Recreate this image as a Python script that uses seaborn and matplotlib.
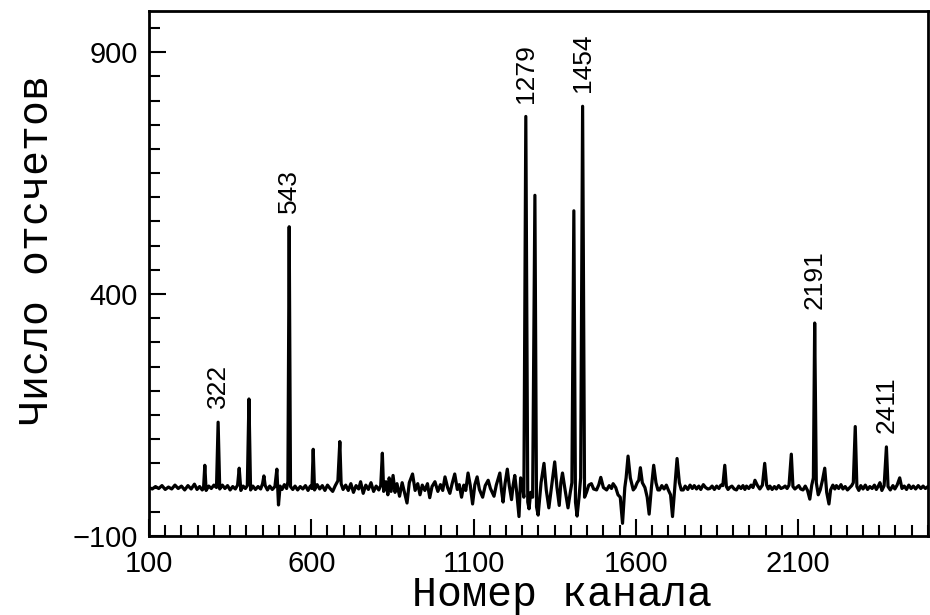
import pandas as pd
import seaborn as sns
import matplotlib.pyplot as plt
from matplotlib.ticker import FixedLocator, MultipleLocator

# spectrum trace (channel, counts)
channels = [
    100, 110, 120, 130, 140, 150, 160, 170, 180, 190,
    200, 210, 220, 230, 240, 248, 256, 264, 268, 272,
    276, 284, 292, 300, 308, 313, 318, 326, 334, 342,
    350, 358, 366, 373, 378, 383, 390, 397, 403, 408,
    413, 420, 428, 436, 444, 450, 454, 458, 465, 472,
    480, 488, 494, 499, 504, 510, 517, 524, 528, 532,
    536, 543, 550, 558, 566, 574, 582, 590, 597, 602,
    606, 610, 618, 626, 634, 642, 650, 658, 666, 674,
    682, 688, 692, 698, 706, 714, 722, 730, 738, 746,
    752, 760, 768, 776, 784, 792, 800, 808, 814, 819,
    823, 830, 836, 840, 846, 852, 858, 864, 872, 880,
    888, 895, 902, 912, 920, 928, 935, 942, 950, 958,
    965, 972, 981, 990, 998, 1005, 1012, 1020, 1027, 1034,
    1042, 1050, 1056, 1063, 1070, 1076, 1083, 1090, 1097, 1104,
    1111, 1118, 1128, 1136, 1145, 1152, 1163, 1170, 1181, 1186,
    1191, 1197, 1204, 1210, 1217, 1222, 1227, 1233, 1240, 1245,
    1250, 1255, 1261, 1267, 1271, 1276, 1282, 1289, 1294, 1299,
    1308, 1317, 1324, 1332, 1340, 1350, 1357, 1364, 1369, 1374,
    1382, 1391, 1398, 1403, 1409, 1414, 1419, 1425, 1430, 1436,
    1442, 1448, 1455, 1463, 1470, 1479, 1486, 1492, 1500, 1510,
    1518, 1525, 1530, 1538, 1545, 1552, 1559, 1566, 1570, 1576,
    1583, 1592, 1598, 1604, 1609, 1614, 1620, 1628, 1635, 1641,
    1648, 1655, 1662, 1668, 1673, 1680, 1687, 1694, 1700, 1707,
    1713, 1720, 1727, 1734, 1740, 1746, 1752, 1760, 1767, 1774,
    1780, 1787, 1794, 1800, 1808, 1815, 1822, 1828, 1835, 1842,
    1849, 1856, 1862, 1868, 1874, 1879, 1884, 1889, 1896, 1903,
    1910, 1917, 1924, 1930, 1936, 1941, 1948, 1955, 1961, 1967,
    1974, 1982, 1990, 1997, 2003, 2008, 2013, 2020, 2027, 2033,
    2040, 2047, 2054, 2060, 2066, 2072, 2079, 2084, 2090, 2095,
    2102, 2108, 2115, 2122, 2129, 2136, 2142, 2147, 2151, 2156,
    2162, 2168, 2175, 2182, 2188, 2195, 2200, 2207, 2213, 2218,
    2225, 2232, 2238, 2245, 2252, 2259, 2265, 2270, 2276, 2281,
    2287, 2293, 2300, 2307, 2314, 2321, 2328, 2335, 2341, 2347,
    2352, 2358, 2365, 2372, 2377, 2384, 2392, 2398, 2405, 2413,
    2420, 2427, 2434, 2441, 2448, 2455, 2462, 2470, 2478, 2485,
    2492, 2500,
]
counts = [
    0, -3, 2, -2, 4, -4, 1, -3, 5, -2,
    3, -5, 4, -3, 7, -4, 2, -5, -2, 46,
    -6, 3, -2, 5, 0, 135, -3, 5, -2, 4,
    -5, 2, -3, 5, 40, -6, 3, -2, 4, 183,
    -5, 3, -4, 2, -3, 8, 24, 4, -5, 3,
    -4, 2, 38, -36, 3, -4, 6, -2, 12, 539,
    2, -4, 3, -5, 2, -3, 4, -6, 3, -2,
    79, -5, 6, -3, 4, -6, 5, -2, -8, 4,
    14, 95, 8, -4, 5, -6, 8, -10, 4, -3,
    12, -12, 5, -4, 10, -8, 3, -5, 4, 71,
    -8, 12, -15, 20, -8, 25, -10, 8, -18, 10,
    -12, -32, 10, 28, -6, 8, -15, 5, -6, 8,
    -21, 2, 12, -8, 6, -6, 22, 0, -12, 8,
    28, -4, 6, -20, 5, -6, 30, 4, -34, 6,
    22, -4, -20, 4, 15, -2, -18, 5, 30, -5,
    -30, 8, 38, 4, -25, 5, 25, -10, -60, 20,
    10, -20, 767, -30, -44, -10, -20, 604, -40, -57,
    10, 50, -5, -42, 0, 53, 0, -37, 10, 30,
    -5, -42, -10, 10, 572, -30, -59, -20, 20, 788,
    -20, -10, 5, 8, -3, -5, 6, 21, 0, -5,
    4, -2, 8, 0, -15, -20, -74, 0, 20, 65,
    20, -5, 0, 10, 15, 41, 10, 0, -20, -55,
    0, 46, 10, -5, -5, 4, -3, 5, -5, -15,
    -60, 0, 60, 10, -5, -5, 3, -4, 5, -2,
    4, -3, 3, -4, 6, 0, -3, -2, 3, -4,
    3, -2, 5, 4, 46, 2, -4, 0, 3, -3,
    -5, 3, -2, 4, -4, 3, -2, 5, 0, 15,
    5, -3, 5, 50, 5, -3, 3, -4, 2, -3,
    4, -2, 0, 3, -2, 5, 69, 2, -3, 0,
    4, -3, -5, 3, -6, -24, 5, 20, 340, 10,
    -15, -5, 15, 40, -10, -34, -5, 5, -3, 4,
    -2, 6, -3, 2, -5, 0, 4, 10, 126, 2,
    -6, 4, -3, 5, -4, 2, -2, 5, -4, 3,
    10, -6, 4, 84, 2, -5, 4, -3, 5, 20,
    -2, 3, -4, 5, -2, 3, -3, 4, -2, 3,
    -2, 2,
]

# labelled lines
peak_labels = ["322", "543", "1279", "1454", "2191", "2411"]
peak_channels = [313, 532, 1261, 1436, 2151, 2372]
peak_counts = [135, 539, 767, 788, 340, 84]

x_ticks = [100, 600, 1100, 1600, 2100]
y_ticks = [-100, 400, 900]

sns.set_style("ticks")
plt.rcParams['font.family'] = ['Liberation Sans', 'DejaVu Sans']
plt.rcParams['text.color'] = 'black'
plt.rcParams['axes.labelcolor'] = 'black'

fig = plt.figure(figsize=(9.3, 6.15), dpi=100)
ax = fig.add_axes([0.1602, 0.1286, 0.8376, 0.8535])

df = pd.DataFrame({'channel': channels, 'counts': counts})
sns.lineplot(data=df, x='channel', y='counts', ax=ax, color='black',
             lw=2.3, estimator=None, sort=False)

for lab, ch, c in zip(peak_labels, peak_channels, peak_counts):
    ax.annotate(lab, (ch, c), xytext=(0, 10), textcoords='offset points',
                rotation=90, ha='center', va='bottom', fontsize=19,
                color='black')

ax.set_xlim(100, 2500)
ax.set_ylim(-100, 985)
ax.xaxis.set_major_locator(FixedLocator(x_ticks))
ax.xaxis.set_minor_locator(MultipleLocator(50))
ax.yaxis.set_major_locator(FixedLocator(y_ticks))
ax.yaxis.set_minor_locator(MultipleLocator(50))

ax.tick_params(which='both', direction='in', top=False, right=False,
               width=1.5, color='black', labelcolor='black')
ax.tick_params(which='major', length=12, labelsize=21)
ax.tick_params(which='minor', length=8)
ax.tick_params(axis='x', pad=10)
ax.tick_params(axis='y', pad=8)
for s in ax.spines.values():
    s.set_linewidth(2)
    s.set_color('black')

ax.set_xlabel('Номер канала', fontfamily='Liberation Mono', fontsize=30,
              color='black')
ax.set_ylabel('Число отсчетов', fontfamily='Liberation Mono', fontsize=30,
              color='black')
ax.xaxis.set_label_coords(0.530, -0.075)
ax.yaxis.set_label_coords(-0.118, 0.545)

fig.savefig('out.png', dpi=100)
